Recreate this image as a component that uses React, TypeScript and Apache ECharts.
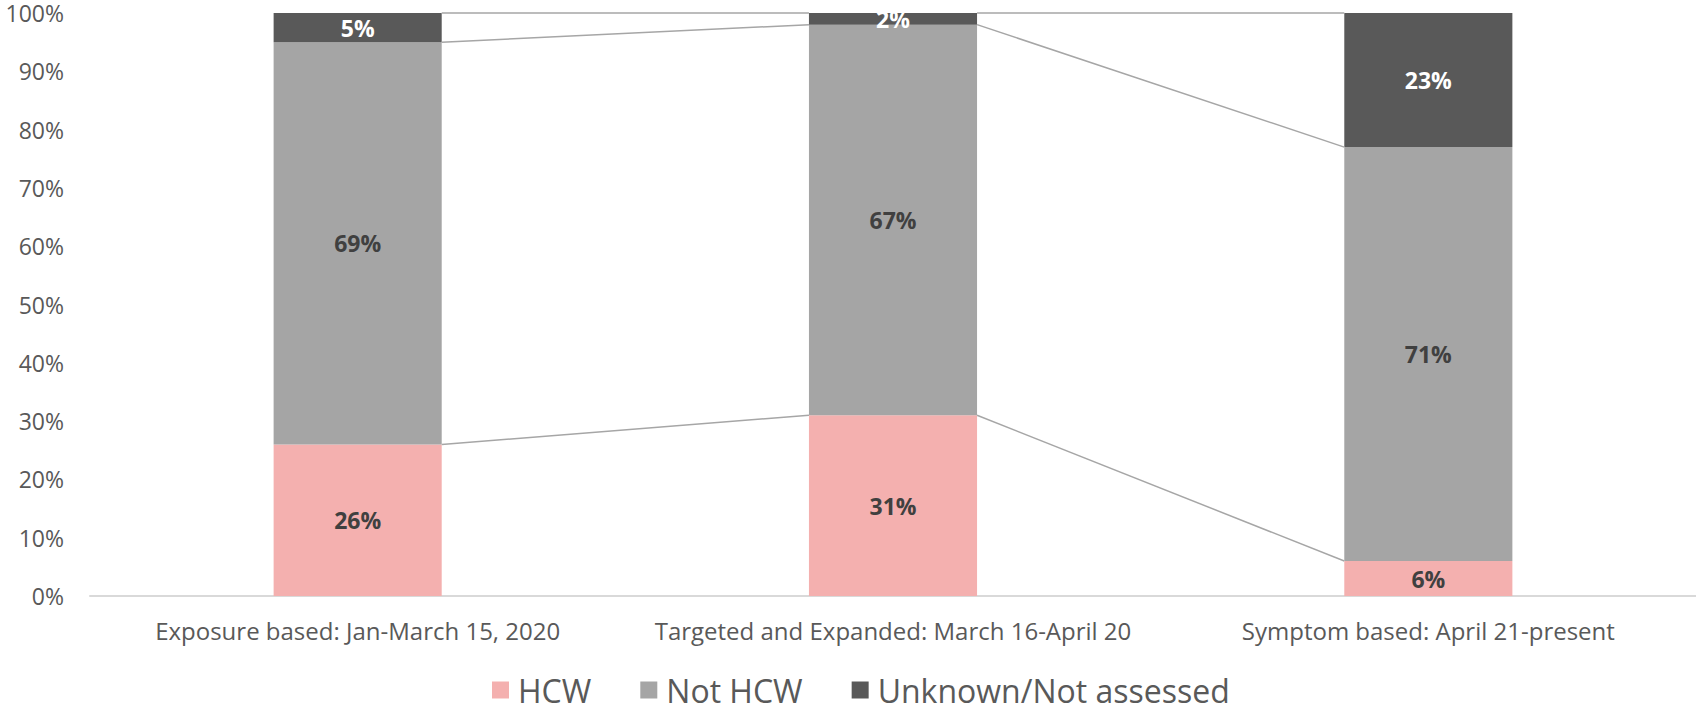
import React, { useEffect, useRef } from "react";
import * as echarts from "echarts";

const categories = [
  "Exposure based: Jan-March 15, 2020",
  "Targeted and Expanded: March 16-April 20",
  "Symptom based: April 21-present",
];
const seriesNames = ["HCW", "Not HCW", "Unknown/Not assessed"];
const hcw = [26, 31, 6];
const notHcw = [69, 67, 71];
const unknown = [5, 2, 23];
const yTicks = { min: 0, max: 100, interval: 10 };

const BAR_FRAC = 0.314;
const FONT = "'Open Sans', 'Noto Sans', sans-serif";

export default function App() {
  const ref = useRef<HTMLDivElement>(null);

  useEffect(() => {
    if (!ref.current) return;
    const chart = echarts.init(ref.current, null, { renderer: "svg" });

    const lvl1 = hcw.map((v) => v);
    const lvl2 = hcw.map((v, i) => v + notHcw[i]);
    const lvl3 = hcw.map((v, i) => v + notHcw[i] + unknown[i]);
    const connectors: number[][] = [];
    for (let i = 0; i < categories.length - 1; i++) {
      [lvl1, lvl2, lvl3].forEach((lvl) => connectors.push([i, lvl[i], lvl[i + 1]]));
    }

    const colors = ["#F4B0AF", "#A5A5A5", "#595959"];
    const labelColors = ["#404040", "#404040", "#FFFFFF"];
    const datasets = [hcw, notHcw, unknown];

    const barSeries = datasets.map((d, k) => ({
      name: seriesNames[k],
      type: "bar",
      stack: "total",
      barWidth: (BAR_FRAC * 100).toFixed(1) + "%",
      data: d,
      itemStyle: { color: colors[k] },
      label: {
        show: true,
        position: "inside",
        formatter: "{c}%",
        color: labelColors[k],
        fontFamily: FONT,
        fontWeight: "bold",
        fontSize: 23,
      },
      z: 2,
    }));

    chart.setOption({
      animation: false,
      color: colors,
      textStyle: { fontFamily: FONT },
      grid: { left: 90, right: 0, top: 13, bottom: 113, containLabel: false },
      legend: {
        data: seriesNames,
        left: 487,
        top: 669,
        itemWidth: 17,
        itemHeight: 17,
        itemGap: 49,
        icon: "rect",
        textStyle: {
          fontFamily: FONT,
          fontSize: 32,
          color: "#595959",
          padding: [0, 0, 0, 4],
        },
      },
      xAxis: {
        type: "category",
        data: categories,
        axisLine: { show: true, lineStyle: { color: "#D9D9D9", width: 2 } },
        axisTick: { show: false },
        axisLabel: {
          fontFamily: FONT,
          fontSize: 24,
          color: "#595959",
          margin: 22,
          interval: 0,
        },
      },
      yAxis: {
        type: "value",
        min: yTicks.min,
        max: yTicks.max,
        interval: yTicks.interval,
        axisLine: { show: false },
        axisTick: { show: false },
        splitLine: { show: false },
        axisLabel: {
          formatter: "{value}%",
          fontFamily: FONT,
          fontSize: 23,
          color: "#595959",
          margin: 26,
        },
      },
      series: [
        ...barSeries,
        {
          name: "connectors",
          type: "custom",
          silent: true,
          encode: { x: 0, y: [1, 2] },
          data: connectors,
          z: 3,
          renderItem: (params: any, api: any) => {
            const i = api.value(0);
            const v1 = api.value(1);
            const v2 = api.value(2);
            const p1 = api.coord([i, v1]);
            const p2 = api.coord([i + 1, v2]);
            const band = api.size([1, 0])[0];
            const hw = (band * BAR_FRAC) / 2;
            return {
              type: "line",
              shape: { x1: p1[0] + hw, y1: p1[1], x2: p2[0] - hw, y2: p2[1] },
              style: { stroke: "#A6A6A6", lineWidth: 1.5 },
            };
          },
        },
      ],
    });

    return () => chart.dispose();
  }, []);

  return (
    <div
      ref={ref}
      style={{ position: "fixed", left: 0, top: 0, width: 1696, height: 709, background: "#fff" }}
    />
  );
}
